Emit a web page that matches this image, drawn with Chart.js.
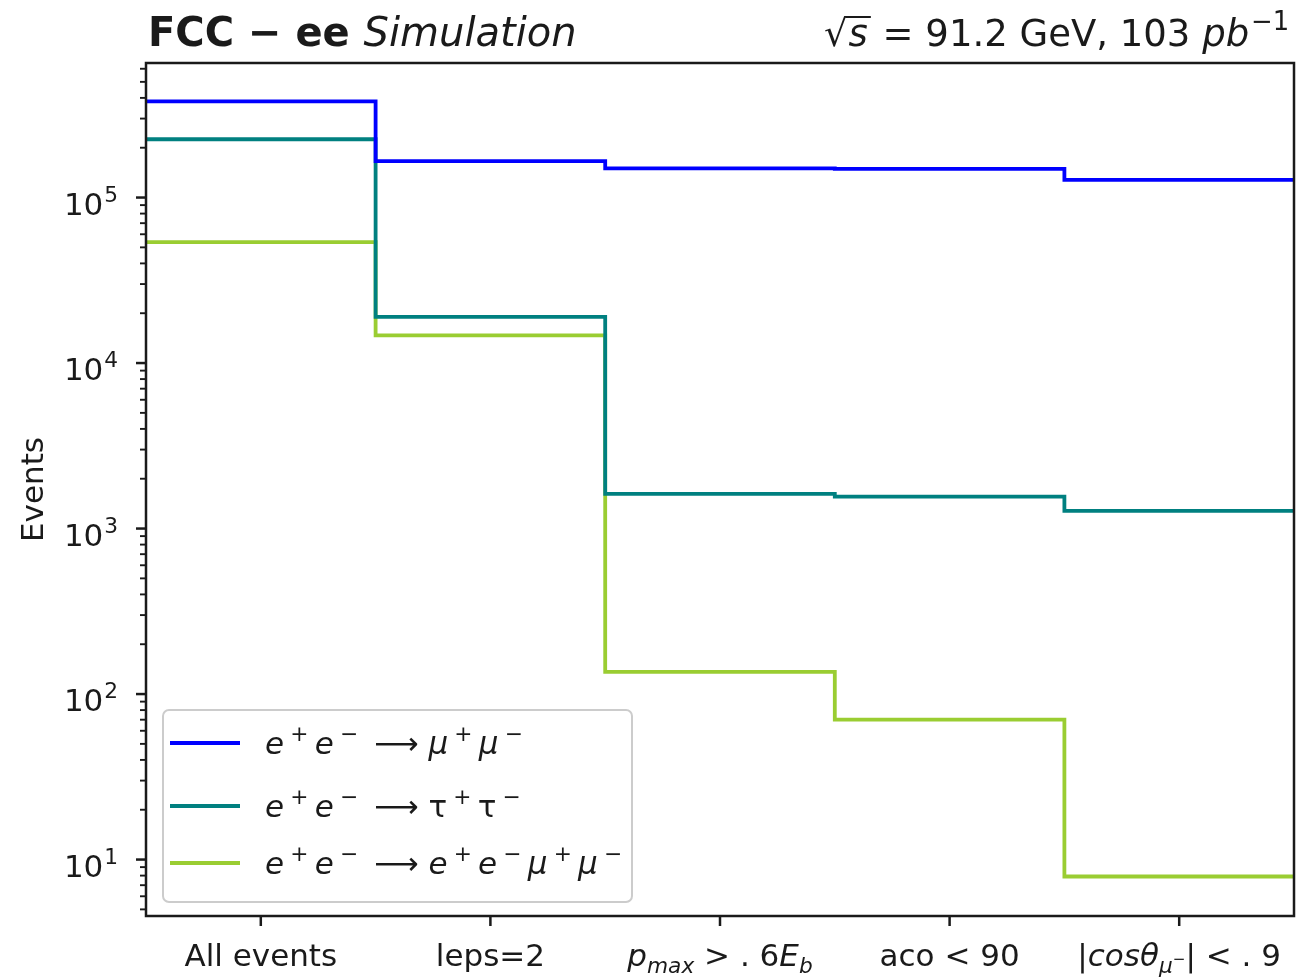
<!DOCTYPE html>
<html>
<head>
<meta charset="utf-8">
<script src="https://cdn.jsdelivr.net/npm/chart.js@4.4.0/dist/chart.umd.min.js"></script>
<style>
  html, body { margin: 0; padding: 0; background: #fff; }
  canvas { display: block; }
</style>
</head>
<body>
<canvas id="graficoCortes" width="1310" height="978"></canvas>
<script>
// Cortes (eixo x) - texto com marcação simples: $...$ = modo matemático, ^{} / _{} = sobrescrito / subscrito
const cutLabels = ['All events', 'leps=2', '$p_{max} > . 6E_{b}$', 'aco < 90', '$|cosθ_{μ^{−}}| < . 9$'];

// Eventos por corte
const mumuEvents   = [381000, 166000, 150000, 149000, 128000];
const tautauEvents = [225000, 19000, 1620, 1560, 1280];
const eemumuEvents = [53800, 14700, 136, 70, 7.9];

const seriesLabels = ['$e^{+}e^{−} ⟶ μ^{+}μ^{−}$', '$e^{+}e^{−} ⟶ τ^{+}τ^{−}$', '$e^{+}e^{−} ⟶ e^{+}e^{−}μ^{+}μ^{−}$'];
const seriesColors = ['#0000ff', '#008080', '#9acd32'];

const yMajorTicks = [10, 100, 1000, 10000, 100000];
const yTickLabels = ['$10^{1}$', '$10^{2}$', '$10^{3}$', '$10^{4}$', '$10^{5}$'];
const yMin = 4.56, yMax = 650000;

const FONTE = '"DejaVu Sans"';
const COR_TEXTO = '#1a1a1a';

// transforma a marcação em pedaços (caractere, tamanho, deslocamento, itálico, espaço extra)
function parseRich(str, size, kernSup) {
    const runs = [];
    const walk = (s, sz, dy, inMath) => {
        let i = 0;
        while (i < s.length) {
            const c = s[i];
            if (c === '$') { inMath = !inMath; i++; continue; }
            if (inMath && (c === '^' || c === '_')) {
                let grp;
                if (s[i + 1] === '{') {
                    let depth = 0, j = i + 1;
                    for (; j < s.length; j++) {
                        if (s[j] === '{') depth++;
                        else if (s[j] === '}') { depth--; if (depth === 0) break; }
                    }
                    grp = s.slice(i + 2, j);
                    i = j + 1;
                } else {
                    grp = s[i + 1];
                    i += 2;
                }
                const sup = c === '^';
                const off = sup ? -0.42 * sz : 0.22 * sz;
                const k = sup ? kernSup * sz : 0;
                if (k) runs.push({ ch: '', size: sz, dy: dy, italic: false, extra: k });
                walk(grp, sz * 0.7, dy + off, true);
                if (k) runs.push({ ch: '', size: sz, dy: dy, italic: false, extra: k });
                continue;
            }
            runs.push({ ch: c, size: sz, dy: dy, italic: inMath && /[A-Za-zμθ]/.test(c), extra: 0 });
            i++;
        }
    };
    walk(str, size, 0, false);
    return runs;
}

function layoutRich(ctx, str, opts) {
    const size = opts.size || 31;
    const runs = parseRich(str, size, opts.kernSup || 0);
    const fontOf = r => `${r.italic || opts.italic ? 'italic ' : ''}${opts.bold ? 'bold ' : ''}${r.size}px ${FONTE}`;
    let total = 0;
    runs.forEach(r => {
        ctx.font = fontOf(r);
        r.font = ctx.font;
        r.w = (r.ch ? ctx.measureText(r.ch).width : 0) + r.extra;
        total += r.w;
    });
    return { runs, total };
}

function drawRich(ctx, str, x, y, opts) {
    const { runs, total } = layoutRich(ctx, str, opts);
    let cx = x;
    if (opts.align === 'center') cx = x - total / 2;
    else if (opts.align === 'right') cx = x - total;
    ctx.fillStyle = opts.color || COR_TEXTO;
    ctx.textBaseline = 'alphabetic';
    ctx.textAlign = 'left';
    runs.forEach(r => {
        if (r.ch) {
            ctx.font = r.font;
            ctx.fillText(r.ch, cx, y + r.dy);
        }
        cx += r.w;
    });
    return total;
}

const decoracao = {
    id: 'decoracao',
    afterDraw(chart) {
        const { ctx, chartArea: a, scales: { x, y } } = chart;
        ctx.save();

        // moldura
        ctx.strokeStyle = COR_TEXTO;
        ctx.lineWidth = 2.5;
        ctx.strokeRect(a.left, a.top, a.right - a.left, a.bottom - a.top);

        // ticks menores do eixo y
        ctx.lineWidth = 1.9;
        for (let d = 0; d <= 5; d++) {
            for (let m = 2; m <= 9; m++) {
                const v = m * Math.pow(10, d);
                if (v < yMin || v > yMax) continue;
                const py = y.getPixelForValue(v);
                ctx.beginPath(); ctx.moveTo(a.left - 6, py); ctx.lineTo(a.left, py); ctx.stroke();
            }
        }
        // ticks maiores do eixo y
        ctx.lineWidth = 2.5;
        yMajorTicks.forEach((v, i) => {
            const py = y.getPixelForValue(v);
            ctx.beginPath(); ctx.moveTo(a.left - 10, py); ctx.lineTo(a.left, py); ctx.stroke();
            drawRich(ctx, yTickLabels[i], 119, py + 17, { size: 31, align: 'right', kernSup: 0.03 });
        });

        // ticks do eixo x
        cutLabels.forEach((lab, i) => {
            const px = x.getPixelForValue(i + 0.5);
            ctx.beginPath(); ctx.moveTo(px, a.bottom); ctx.lineTo(px, a.bottom + 10); ctx.stroke();
            drawRich(ctx, lab, px, 966, { size: 31, align: 'center' });
        });

        // rótulo do eixo y
        ctx.save();
        ctx.translate(43, (a.top + a.bottom) / 2);
        ctx.rotate(-Math.PI / 2);
        ctx.font = `31px ${FONTE}`;
        ctx.fillStyle = COR_TEXTO;
        ctx.textAlign = 'center';
        ctx.textBaseline = 'alphabetic';
        ctx.fillText('Events', 0, 0);
        ctx.restore();

        // título à esquerda
        const w = drawRich(ctx, 'FCC − ee ', 148, 46, { size: 40, bold: true, align: 'left' });
        drawRich(ctx, 'Simulation', 148 + w, 46, { size: 40, italic: true, align: 'left' });

        // título à direita: √s com barra, depois o resto
        const tSize = 37;
        const partRaiz = layoutRich(ctx, '√', { size: tSize }).total;
        const partS = layoutRich(ctx, '$s$', { size: tSize }).total + 4;
        const resto = ' = 91.2 GeV, 103 $pb^{−1}$';
        const partResto = layoutRich(ctx, resto, { size: tSize, kernSup: 0.05 }).total;
        let tx = 1291 - (partRaiz + partS + partResto);
        drawRich(ctx, '√', tx, 46, { size: tSize, align: 'left' });
        tx += partRaiz;
        ctx.strokeStyle = COR_TEXTO;
        ctx.lineWidth = 2;
        ctx.beginPath(); ctx.moveTo(tx - 2, 17); ctx.lineTo(tx + partS, 17); ctx.stroke();
        drawRich(ctx, '$s$', tx + 1, 46, { size: tSize, align: 'left' });
        tx += partS;
        drawRich(ctx, resto, tx, 46, { size: tSize, align: 'left', kernSup: 0.05 });

        // legenda
        const lx = 163, ly = 710, lw = 469, lh = 192;
        ctx.beginPath();
        ctx.roundRect(lx, ly, lw, lh, 6);
        ctx.fillStyle = 'rgba(255,255,255,0.8)';
        ctx.fill();
        ctx.strokeStyle = '#cccccc';
        ctx.lineWidth = 2;
        ctx.stroke();
        const rows = [743, 806, 863];
        seriesLabels.forEach((lab, i) => {
            ctx.strokeStyle = seriesColors[i];
            ctx.lineWidth = 3.8;
            ctx.beginPath(); ctx.moveTo(170, rows[i]); ctx.lineTo(240, rows[i]); ctx.stroke();
            drawRich(ctx, lab, 265, rows[i] + 11, { size: 31, align: 'left', kernSup: 0.2 });
        });

        ctx.restore();
    }
};

// pontos do histograma em degraus: cada valor ocupa [i, i+1]
function degraus(valores) {
    const pts = valores.map((v, i) => ({ x: i, y: v }));
    pts.push({ x: valores.length, y: valores[valores.length - 1] });
    return pts;
}

const series = [mumuEvents, tautauEvents, eemumuEvents];

new Chart(document.getElementById('graficoCortes'), {
    type: 'line',
    data: {
        datasets: series.map((valores, i) => ({
            label: seriesLabels[i],
            data: degraus(valores),
            borderColor: seriesColors[i],
            borderWidth: 3.8,
            stepped: 'before',
            pointRadius: 0,
            fill: false
        }))
    },
    options: {
        responsive: false,
        animation: false,
        devicePixelRatio: 1,
        layout: { padding: { left: 146, right: 16, top: 63, bottom: 62 } },
        plugins: { legend: { display: false }, title: { display: false }, tooltip: { enabled: false } },
        scales: {
            x: { type: 'linear', min: 0, max: cutLabels.length, display: false },
            y: { type: 'logarithmic', min: yMin, max: yMax, display: false }
        }
    },
    plugins: [decoracao]
});
</script>
</body>
</html>
